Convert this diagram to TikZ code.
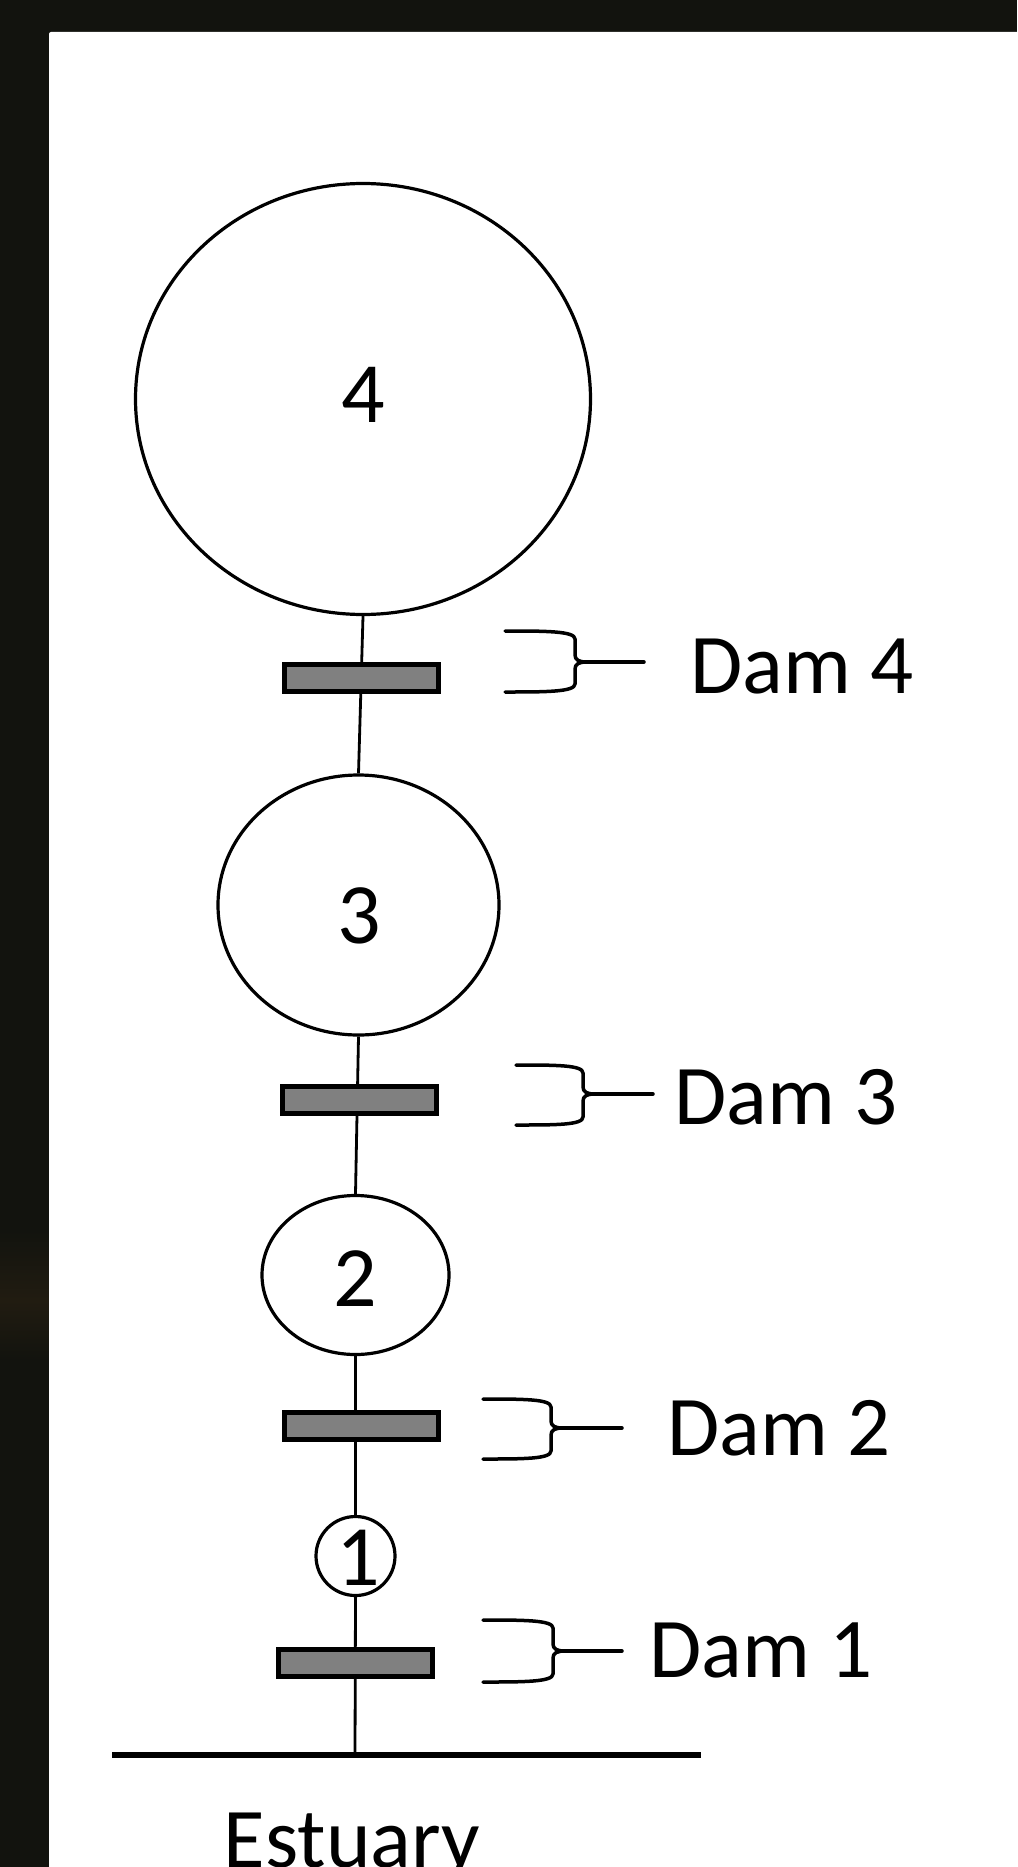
\documentclass[tikz,border=0pt]{standalone}
\usepackage{fontspec}
\setmainfont{Carlito}
\usetikzlibrary{shapes.geometric}
\definecolor{bgdark}{RGB}{18,19,14}
\definecolor{bgbrown}{RGB}{33,28,17}
\definecolor{damgray}{RGB}{128,128,128}
\newcommand\dambrace[6]{% #1 left x, #2 vertical x, #3 top y, #4 tip y, #5 bottom y, #6 end x
  \draw[bracestyle] (#1,#3) .. controls ({#1+40},#3) and (#2,{#3}) .. (#2,{#3+8})
    -- (#2,{#4-7}) .. controls (#2,{#4-2}) and ({#2+4},#4) .. ({#2+12},#4)
    .. controls ({#2+4},#4) and (#2,{#4+2}) .. (#2,{#4+7})
    -- (#2,{#5-8}) .. controls (#2,#5) and ({#1+40},#5) .. (#1,#5);
  \draw[bracestyle] ({#2+8},#4) -- (#6,#4);
}
\begin{document}
\begin{tikzpicture}[x=1pt,y=-1pt,
  pond/.style={draw=black, line width=3.2pt, shape=ellipse, inner sep=0pt, fill=white},
  dam/.style={draw=black, line width=5pt, fill=damgray, rectangle, inner sep=0pt, minimum width=154pt, minimum height=27pt},
  river/.style={draw=black, line width=2.8pt},
  bracestyle/.style={draw=black, line width=3.5pt, line cap=round, line join=round},
  bignum/.style={font=\fontsize{86}{100}\selectfont, inner sep=0pt},
  damlabel/.style={font=\fontsize{85}{100}\selectfont, inner sep=0pt, anchor=base west}]
\useasboundingbox (0,0) rectangle (1017,1867);
\fill[bgdark] (0,0) rectangle (1017,1867);
\shade[top color=bgdark, bottom color=bgbrown] (0,1230) rectangle (49,1300);
\shade[top color=bgbrown, bottom color=bgdark] (0,1300) rectangle (49,1360);
\fill[white, rounded corners=2pt] (49,32) -- (1030,32) -- (1030,1880) -- (49,1880) -- cycle;

% ponds
\node[pond, minimum width=455pt, minimum height=431pt] (c4) at (363,399) {};
\node[pond, minimum width=281pt, minimum height=260pt] (c3) at (358.5,905) {};
\node[pond, minimum width=187pt, minimum height=159pt] (c2) at (355.5,1275) {};
\node[pond, minimum width=79pt, minimum height=79pt] (c1) at (355.5,1556) {};
\coordinate (est) at (355,1755);
\coordinate (estL) at (112,1755);
\coordinate (estR) at (701,1755);

% river line
\draw[river] (c4.south) -- (c3.north);
\draw[river] (c3.south) -- (c2.north);
\draw[river] (c2.south) -- (c1.north);
\draw[river] (c1.south) -- (est);
\draw[black, line width=5.5pt] (estL) -- (estR);

% numbers
\node[bignum] (n4) at (363.5,395) {4};
\node[bignum] (n3) at (359,916) {3};
\node[bignum] (n2) at (355.5,1279) {2};
\node[bignum] (n1) at (358,1558) {1};

% dams
\node[dam] (d4) at (361.5,677.5) {};
\node[dam] (d3) at (359,1100) {};
\node[dam] (d2) at (361.5,1425.5) {};
\node[dam] (d1) at (355.5,1663) {};

% braces
\dambrace{505}{575}{631}{662}{692}{644}
\dambrace{516}{583}{1065}{1094}{1125}{653}
\dambrace{483}{551}{1399}{1428}{1459}{622}
\dambrace{483}{553}{1620}{1651}{1682}{622}

% labels
\node[damlabel] (l4) at (690,693) {Dam 4};
\node[damlabel] (l3) at (674,1124) {Dam 3};
\node[damlabel] (l2) at (667,1455) {Dam 2};
\node[damlabel] (l1) at (649,1677) {Dam 1};
\node[font=\fontsize{85}{100}\selectfont, inner sep=0pt, anchor=base] (estuary) at (352,1867) {Estuary};
\end{tikzpicture}
\end{document}
